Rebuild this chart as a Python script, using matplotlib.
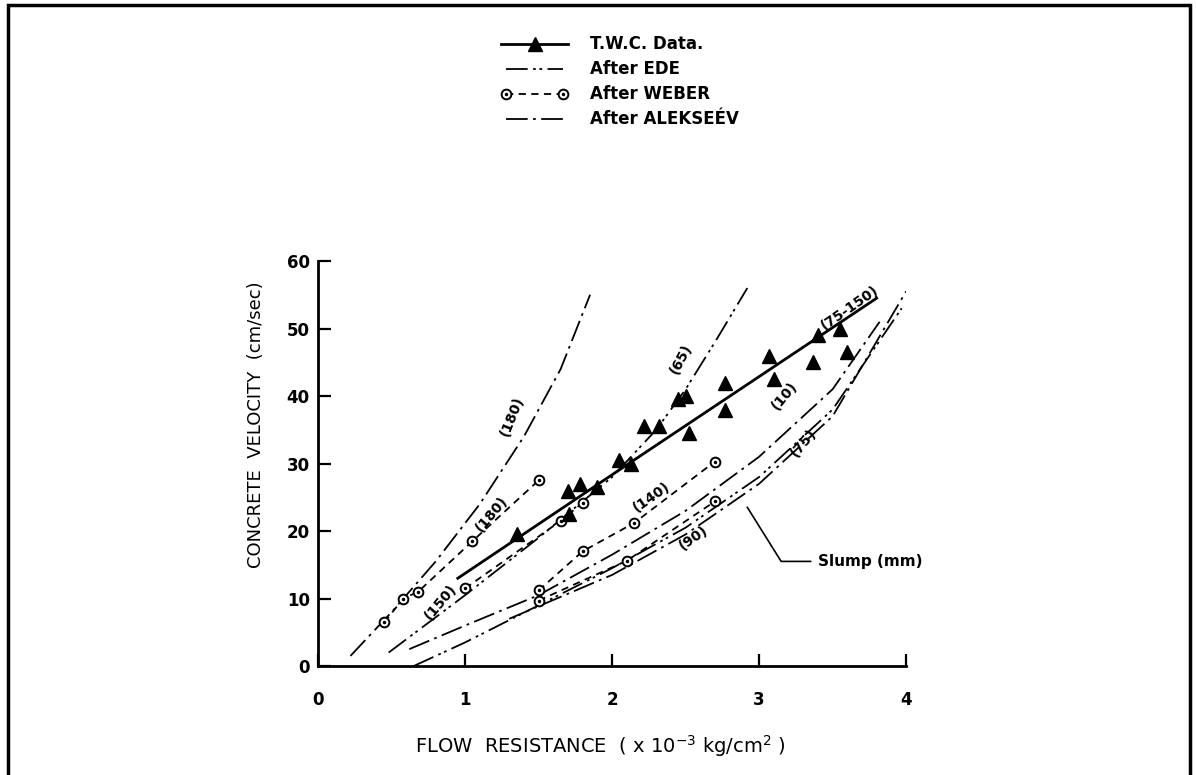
import matplotlib
matplotlib.use('Agg')
import matplotlib.pyplot as plt
from matplotlib.lines import Line2D
from matplotlib.legend_handler import HandlerLine2D, HandlerTuple
from matplotlib.patches import Rectangle

plt.rcParams['font.family'] = ['DejaVu Sans']

# T.W.C. measured points
twc_x = [1.35, 1.70, 1.71, 1.78, 1.90, 2.05, 2.13, 2.22, 2.32, 2.45, 2.50, 2.52, 2.77, 2.77, 3.07, 3.10, 3.37, 3.40, 3.55, 3.60]
twc_y = [19.5, 26.0, 22.5, 27.0, 26.5, 30.5, 30.0, 35.5, 35.5, 39.5, 40.0, 34.5, 42.0, 38.0, 46.0, 42.5, 45.0, 49.0, 50.0, 46.5]
# T.W.C. fitted line
fit_x = [0.95, 2.1, 3.8]
fit_y = [13.0, 29.8, 54.5]

# After WEBER (slump in mm)
weber180_x = [0.45, 0.58, 0.68, 1.05, 1.5]
weber180_y = [6.5, 10.0, 11.0, 18.5, 27.5]
weber150_x = [1.0, 1.65, 1.8]
weber150_y = [11.5, 21.5, 24.2]
weber140_x = [1.5, 1.8, 2.15, 2.7]
weber140_y = [11.2, 17.0, 21.2, 30.3]
weber90_x = [1.5, 2.1, 2.7]
weber90_y = [9.7, 15.6, 24.4]

# After EDE
ede65_x = [0.48, 1.0, 1.5, 2.0, 2.3, 2.5, 2.7, 2.92]
ede65_y = [2.0, 10.5, 19.0, 28.0, 35.0, 41.0, 48.0, 56.0]
ede75_x = [0.65, 1.0, 1.5, 2.0, 2.5, 3.0, 3.5, 3.97]
ede75_y = [0.0, 3.5, 9.0, 14.5, 20.5, 28.0, 38.0, 53.0]

# After ALEKSEEV
alek180_x = [0.22, 0.5, 0.8, 1.1, 1.4, 1.65, 1.85]
alek180_y = [1.5, 8.0, 15.5, 24.0, 34.0, 44.0, 55.0]
alek10_x = [0.62, 1.0, 1.5, 2.0, 2.5, 3.0, 3.5, 3.82]
alek10_y = [2.5, 6.0, 10.5, 16.5, 23.0, 31.0, 41.0, 51.0]
alek75_x = [1.3, 2.0, 2.5, 3.0, 3.5, 4.0]
alek75_y = [7.0, 13.5, 19.5, 27.0, 37.0, 55.5]

# slump labels on the curves
lab_text = ['(180)', '(180)', '(150)', '(65)', '(75-150)', '(10)', '(75)', '(140)', '(90)']
lab_x = [1.32, 1.18, 0.83, 2.47, 3.62, 3.17, 3.30, 2.27, 2.55]
lab_y = [37.0, 22.5, 9.5, 45.5, 53.0, 40.0, 33.0, 25.0, 19.0]
lab_rot = [68, 50, 50, 62, 35, 50, 50, 35, 35]

alek_ls = (0, (12, 3, 1.5, 3))
ede_ls = (0, (12, 3, 1.5, 2, 1.5, 3))
weber_ls = (0, (4, 3))

fig = plt.figure(figsize=(11.96, 7.75), dpi=100)
ax = fig.add_axes([0.266, 0.1406, 0.4916, 0.5226])

# outer frame of the scanned page
fig.add_artist(Rectangle((0.007, -0.1), 0.988, 1.093, transform=fig.transFigure,
                         fill=False, lw=2.5, ec='black'))

for xs, ys in [(alek180_x, alek180_y), (alek10_x, alek10_y), (alek75_x, alek75_y)]:
    ax.plot(xs, ys, color='black', lw=1.3, ls=alek_ls)
for xs, ys in [(ede65_x, ede65_y), (ede75_x, ede75_y)]:
    ax.plot(xs, ys, color='black', lw=1.3, ls=ede_ls)
for xs, ys in [(weber180_x, weber180_y), (weber150_x, weber150_y),
               (weber140_x, weber140_y), (weber90_x, weber90_y)]:
    ax.plot(xs, ys, color='black', lw=1.3, ls=weber_ls, marker='o', ms=7,
            mfc='white', mec='black', mew=1.4)
    ax.plot(xs, ys, ls='none', marker='.', ms=3, color='black')

ax.plot(fit_x, fit_y, color='black', lw=2)
ax.plot(twc_x, twc_y, ls='none', marker='^', ms=10, color='black')

for t, x, y, r in zip(lab_text, lab_x, lab_y, lab_rot):
    ax.text(x, y, t, rotation=r, ha='center', va='center', fontsize=10,
            fontweight='bold', rotation_mode='anchor')

# slump leader
ax.plot([2.92, 3.15, 3.35], [23.5, 15.5, 15.5], color='black', lw=1.2)
ax.text(3.4, 15.5, 'Slump (mm)', ha='left', va='center', fontsize=11, fontweight='bold')

ax.set_xlim(0, 4)
ax.set_ylim(0, 60)
ax.set_xticks([0, 1, 2, 3, 4])
ax.set_yticks([0, 10, 20, 30, 40, 50, 60])
ax.spines['top'].set_visible(False)
ax.spines['right'].set_visible(False)
ax.spines['left'].set_linewidth(2)
ax.spines['bottom'].set_linewidth(2)
ax.tick_params(axis='both', direction='in', length=9, width=1.6, labelsize=12)
ax.tick_params(axis='x', pad=18)
ax.tick_params(axis='y', pad=6)
for lbl in ax.get_xticklabels() + ax.get_yticklabels():
    lbl.set_fontweight('bold')

ax.set_xlabel(r'FLOW  RESISTANCE  ( x 10$^{-3}$ kg/cm$^{2}$ )', fontsize=14)
ax.set_ylabel('CONCRETE  VELOCITY  (cm/sec)', fontsize=13)
ax.xaxis.set_label_coords(0.48, -0.165)
ax.yaxis.set_label_coords(-0.09, 0.595)

# legend
h_twc = Line2D([], [], color='black', lw=2, marker='^', ms=10)
h_ede = Line2D([], [], color='black', lw=1.3, ls=ede_ls)
h_web = (Line2D([], [], color='black', lw=1.3, ls=weber_ls, marker='o', ms=7,
                mfc='white', mec='black', mew=1.4),
         Line2D([], [], ls='none', marker='.', ms=3, color='black'))
h_alek = Line2D([], [], color='black', lw=1.3, ls=alek_ls)
ax.legend([h_twc, h_ede, h_web, h_alek],
          ['T.W.C. Data.', 'After EDE', 'After WEBER', 'After ALEKSEÉV'],
          handler_map={h_twc: HandlerLine2D(numpoints=1), tuple: HandlerTuple(ndivide=1)},
          numpoints=2, loc='upper left', bbox_to_anchor=(493 / 1196, 1 - 27 / 775),
          bbox_transform=fig.transFigure, frameon=False, handlelength=4.0,
          handletextpad=1.3, labelspacing=0.42, borderpad=0,
          prop={'size': 12, 'weight': 'bold'})

fig.savefig('out.png', dpi=100)
